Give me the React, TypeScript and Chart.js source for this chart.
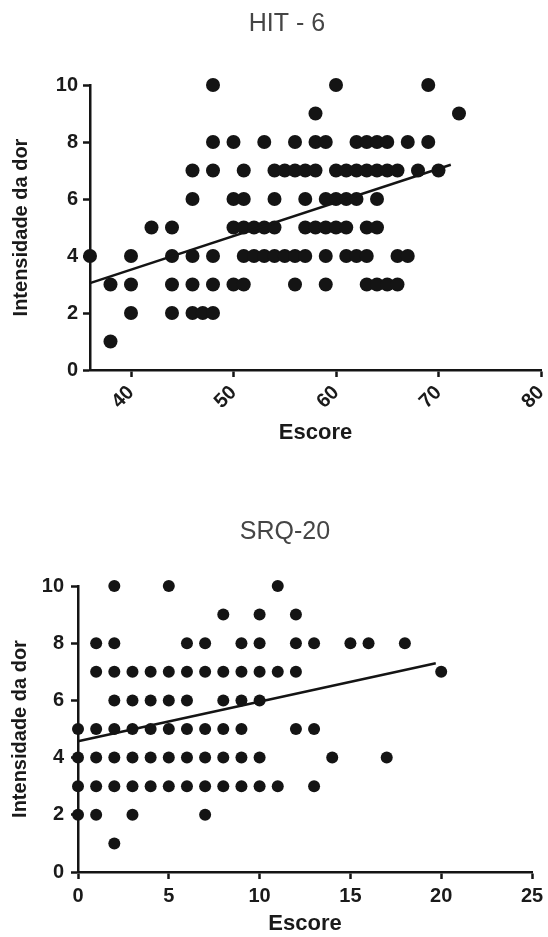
import React, { useEffect, useRef } from "react";
import { Chart, registerables } from "chart.js";

Chart.register(...registerables);
Chart.defaults.font.family = "'Liberation Sans', Arial, sans-serif";

// ---------- HIT-6 panel ----------
const hitTitle = "HIT - 6";
const hitPainLevels = [10, 9, 8, 7, 6, 5, 4, 3, 2, 1];
const hitScoresByLevel = [
  [48, 60, 69],
  [58, 72],
  [48, 50, 53, 56, 58, 59, 62, 63, 64, 65, 67, 69],
  [46, 48, 51, 54, 55, 56, 57, 58, 60, 61, 62, 63, 64, 65, 66, 68, 70],
  [46, 50, 51, 54, 57, 59, 60, 61, 62, 64],
  [42, 44, 50, 51, 52, 53, 54, 57, 58, 59, 60, 61, 63, 64],
  [36, 40, 44, 46, 48, 51, 52, 53, 54, 55, 56, 57, 59, 61, 62, 63, 66, 67],
  [38, 40, 44, 46, 48, 50, 51, 56, 59, 63, 64, 65, 66],
  [40, 44, 46, 47, 48],
  [38],
];
const hitFitX = [36, 71.2];
const hitFitY = [3.05, 7.2];
const hitXTicks = [40, 50, 60, 70, 80];
const hitXRange = [36, 80];

// ---------- SRQ-20 panel ----------
const srqTitle = "SRQ-20";
const srqPainLevels = [10, 9, 8, 7, 6, 5, 4, 3, 2, 1];
const srqScoresByLevel = [
  [2, 5, 11],
  [8, 10, 12],
  [1, 2, 6, 7, 9, 10, 12, 13, 15, 16, 18],
  [1, 2, 3, 4, 5, 6, 7, 8, 9, 10, 11, 12, 20],
  [2, 3, 4, 5, 6, 8, 9, 10],
  [0, 1, 2, 3, 4, 5, 6, 7, 8, 9, 12, 13],
  [0, 1, 2, 3, 4, 5, 6, 7, 8, 9, 10, 14, 17],
  [0, 1, 2, 3, 4, 5, 6, 7, 8, 9, 10, 11, 13],
  [0, 1, 3, 7],
  [2],
];
const srqFitX = [0, 19.7];
const srqFitY = [4.57, 7.3];
const srqXTicks = [0, 5, 10, 15, 20, 25];
const srqXRange = [0, 25];

// shared axis text
const yTicks = [0, 2, 4, 6, 8, 10];
const yTitle = "Intensidade da dor";
const xTitle = "Escore";

const INK = "#141414";

type PanelProps = {
  title: string;
  levels: number[];
  rows: number[][];
  fitX: number[];
  fitY: number[];
  xTicks: number[];
  xRange: number[];
  top: number;
  height: number;
  padL: number;
  padR: number;
  yAxisW: number;
  yTitlePad: number;
  yTickPad: number;
  titlePadTop: number;
  titlePadBottom: number;
  xAxisH: number;
  xTickPad: number;
  xTitlePadB: number;
  rotation: number;
  radius: number;
};

function Panel(p: PanelProps) {
  const ref = useRef<HTMLCanvasElement>(null);
  useEffect(() => {
    if (!ref.current) return;
    const points: { x: number; y: number }[] = [];
    p.levels.forEach((lv, i) => p.rows[i].forEach((x) => points.push({ x, y: lv })));
    const fit = p.fitX.map((x, i) => ({ x, y: p.fitY[i] }));
    const chart = new Chart(ref.current, {
      type: "scatter",
      data: {
        datasets: [
          {
            type: "line",
            data: fit,
            borderColor: INK,
            borderWidth: 2.5,
            pointRadius: 0,
            showLine: true,
            fill: false,
            clip: false,
            order: 0,
          } as any,
          {
            type: "scatter",
            data: points,
            pointRadius: p.radius,
            pointHoverRadius: p.radius,
            backgroundColor: INK,
            borderColor: INK,
            borderWidth: 0,
            clip: false,
            order: 1,
          } as any,
        ],
      },
      options: {
        responsive: false,
        animation: false,
        events: [],
        layout: { padding: { left: p.padL, right: p.padR, top: 0, bottom: 0 } },
        plugins: {
          legend: { display: false },
          tooltip: { enabled: false },
          title: {
            display: true,
            text: p.title,
            color: "#454545",
            font: { size: 25, weight: "normal" },
            padding: { top: p.titlePadTop, bottom: p.titlePadBottom },
          },
        },
        scales: {
          x: {
            type: "linear",
            min: p.xRange[0],
            max: p.xRange[1],
            afterBuildTicks: (ax: any) => {
              ax.ticks = p.xTicks.map((v) => ({ value: v }));
            },
            afterFit: (s: any) => {
              s.height = p.xAxisH;
              s.paddingLeft = 0;
              s.paddingRight = 0;
            },
            ticks: {
              color: "#1a1a1a",
              font: { size: 20, weight: "bold" },
              padding: p.xTickPad,
              minRotation: p.rotation,
              maxRotation: p.rotation,
              autoSkip: false,
            },
            grid: {
              display: true,
              drawOnChartArea: false,
              drawTicks: true,
              tickLength: 7,
              tickWidth: 2.5,
              tickColor: INK,
              color: INK,
            },
            border: { display: true, color: INK, width: 2.5 },
            title: {
              display: true,
              text: xTitle,
              color: "#1a1a1a",
              font: { size: 22, weight: "bold" },
              padding: { top: 0, bottom: p.xTitlePadB },
            },
          },
          y: {
            type: "linear",
            min: 0,
            max: 10,
            afterBuildTicks: (ax: any) => {
              ax.ticks = yTicks.map((v) => ({ value: v }));
            },
            afterFit: (s: any) => {
              s.width = p.yAxisW;
              s.paddingTop = 0;
              s.paddingBottom = 0;
            },
            ticks: {
              color: "#1a1a1a",
              font: { size: 20, weight: "bold" },
              padding: p.yTickPad,
              autoSkip: false,
            },
            grid: {
              display: true,
              drawOnChartArea: false,
              drawTicks: true,
              tickLength: 7,
              tickWidth: 2.5,
              tickColor: INK,
              color: INK,
            },
            border: { display: true, color: INK, width: 2.5 },
            title: {
              display: true,
              text: yTitle,
              color: "#1a1a1a",
              font: { size: 20, weight: "bold" },
              padding: { top: p.yTitlePad, bottom: 0 },
            },
          },
        },
      } as any,
    });
    return () => chart.destroy();
  }, []);
  return (
    <canvas
      ref={ref}
      width={548}
      height={p.height}
      style={{ position: "absolute", left: 0, top: p.top, width: 548, height: p.height }}
    />
  );
}

export default function App() {
  return (
    <div style={{ position: "absolute", left: 0, top: 0, width: 548, height: 937, background: "#fff" }}>
      <Panel
        title={hitTitle}
        levels={hitPainLevels}
        rows={hitScoresByLevel}
        fitX={hitFitX}
        fitY={hitFitY}
        xTicks={hitXTicks}
        xRange={hitXRange}
        top={0}
        height={450}
        padL={33}
        padR={7}
        yAxisW={57}
        yTitlePad={-24}
        yTickPad={5}
        titlePadTop={9}
        titlePadBottom={46}
        xAxisH={80}
        xTickPad={4}
        xTitlePadB={4}
        rotation={45}
        radius={7}
      />
      <Panel
        title={srqTitle}
        levels={srqPainLevels}
        rows={srqScoresByLevel}
        fitX={srqFitX}
        fitY={srqFitY}
        xTicks={srqXTicks}
        xRange={srqXRange}
        top={500}
        height={437}
        padL={38}
        padR={16}
        yAxisW={40}
        yTitlePad={-30}
        yTickPad={7}
        titlePadTop={17}
        titlePadBottom={39}
        xAxisH={65}
        xTickPad={5}
        xTitlePadB={0}
        rotation={0}
        radius={6}
      />
    </div>
  );
}
